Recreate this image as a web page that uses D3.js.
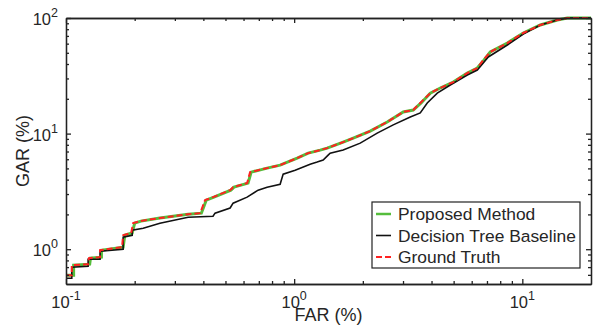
<!DOCTYPE html>
<html lang="en">
<head>
<meta charset="utf-8">
<title>GAR vs FAR</title>
<script src="https://d3js.org/d3.v7.min.js"></script>
<style>
  body { margin: 0; background: #fff; }
  svg text { font-family: "Liberation Sans", Arial, Helvetica, sans-serif; fill: #262626; }
</style>
</head>
<body>
<svg width="603" height="331"></svg>
<script>

// ground truth (red dashed)
var gtFAR = [0.100, 0.106, 0.106, 0.125, 0.126, 0.141, 0.141, 0.176, 0.178, 0.193, 0.197, 0.211, 0.258, 0.343, 0.387, 0.399, 0.407, 0.441, 0.524, 0.540, 0.622, 0.641, 0.761, 0.868, 1.031, 1.152, 1.300, 1.395, 1.640, 1.815, 2.154, 2.558, 3.007, 3.325, 3.570, 3.950, 4.370, 4.982, 5.740, 6.348, 6.744, 7.237, 8.596, 10.10, 11.99, 14.24, 15.75, 20];
var gtGAR = [0.596, 0.596, 0.727, 0.742, 0.836, 0.853, 0.980, 1.04, 1.32, 1.38, 1.68, 1.75, 1.86, 2.01, 2.05, 2.40, 2.66, 2.82, 3.24, 3.44, 3.73, 4.64, 5.03, 5.34, 6.14, 6.78, 7.20, 7.49, 8.44, 9.14, 10.5, 12.6, 15.4, 16.0, 18.4, 22.4, 24.8, 27.9, 33.4, 36.9, 43.3, 50.8, 60.7, 74.2, 87.0, 96.1, 100, 100];

// proposed method (green)
var propFAR = [0.100, 0.108, 0.108, 0.127, 0.128, 0.143, 0.143, 0.178, 0.181, 0.195, 0.200, 0.213, 0.258, 0.343, 0.392, 0.404, 0.412, 0.445, 0.528, 0.545, 0.628, 0.648, 0.761, 0.868, 1.031, 1.152, 1.300, 1.395, 1.640, 1.815, 2.154, 2.558, 3.007, 3.325, 3.600, 3.950, 4.370, 4.982, 5.740, 6.348, 6.800, 7.237, 8.596, 10.10, 11.99, 14.24, 15.75, 20];
var propGAR = [0.596, 0.596, 0.727, 0.742, 0.836, 0.853, 0.980, 1.04, 1.32, 1.38, 1.68, 1.75, 1.86, 2.01, 2.05, 2.40, 2.66, 2.82, 3.24, 3.44, 3.73, 4.64, 5.03, 5.34, 6.14, 6.78, 7.20, 7.49, 8.44, 9.14, 10.5, 12.6, 15.4, 16.0, 18.4, 22.4, 24.8, 27.9, 33.4, 36.9, 43.3, 50.8, 60.7, 74.2, 87.0, 96.1, 100, 100];

// decision tree baseline (black)
var treeFAR = [0.100, 0.106, 0.106, 0.125, 0.125, 0.141, 0.141, 0.178, 0.178, 0.195, 0.195, 0.218, 0.258, 0.343, 0.441, 0.450, 0.524, 0.540, 0.622, 0.695, 0.761, 0.868, 0.895, 1.010, 1.175, 1.261, 1.340, 1.409, 1.438, 1.640, 1.948, 2.312, 2.718, 3.228, 3.570, 3.831, 4.239, 4.833, 5.740, 6.348, 7.093, 8.596, 10.10, 11.99, 14.24, 15.75, 20];
var treeGAR = [0.561, 0.561, 0.698, 0.713, 0.819, 0.819, 0.961, 1.00, 1.27, 1.32, 1.46, 1.52, 1.68, 1.89, 1.93, 2.05, 2.27, 2.50, 2.82, 3.24, 3.44, 3.65, 4.46, 4.83, 5.44, 5.67, 5.90, 6.52, 6.78, 7.20, 8.27, 10.1, 11.9, 13.9, 15.1, 18.4, 22.4, 26.3, 32.1, 35.5, 46.0, 58.4, 72.7, 87.0, 96.1, 100, 100];

var seriesNames = ["Proposed Method", "Decision Tree Baseline", "Ground Truth"];
var xMajor = [0.1, 1, 10];
var yMajor = [1, 10, 100];
var xMinor = [0.2, 0.3, 0.4, 0.5, 0.6, 0.7, 0.8, 0.9, 2, 3, 4, 5, 6, 7, 8, 9];
var yMinor = [0.6, 0.7, 0.8, 0.9, 2, 3, 4, 5, 6, 7, 8, 9, 20, 30, 40, 50, 60, 70, 80, 90];

var svg = d3.select("svg"),
    pL = 66, pR = 591, pT = 18, pB = 284,
    axisColor = "#222";

var x = d3.scaleLog().domain([0.1, 20]).range([pL, pR]);
var y = d3.scaleLog().domain([0.5, 100]).range([pB, pT]);

// curves
svg.append("clipPath").attr("id", "clip")
   .append("rect").attr("x", pL).attr("y", pT - 2)
   .attr("width", pR - pL).attr("height", pB - pT + 2);

var line = d3.line().x(function(d) { return x(d[0]); }).y(function(d) { return y(d[1]); });

function zipPts(a, b) { return a.map(function(v, i) { return [v, b[i]]; }); }

var curves = [
  { pts: zipPts(propFAR, propGAR), color: "#55bd3c", width: 3, dash: null },
  { pts: zipPts(treeFAR, treeGAR), color: "#111", width: 1.6, dash: null },
  { pts: zipPts(gtFAR, gtGAR), color: "#ff2121", width: 2, dash: "6,3" }
];

var cg = svg.append("g").attr("clip-path", "url(#clip)");
curves.forEach(function(c) {
  cg.append("path").datum(c.pts)
    .attr("d", line)
    .attr("fill", "none")
    .attr("stroke", c.color)
    .attr("stroke-width", c.width)
    .attr("stroke-dasharray", c.dash);
});

// axes: inward ticks on all four sides
function styleAxis(g) {
  g.selectAll("path, line").attr("stroke", axisColor).attr("stroke-width", 1.3);
  g.selectAll("text").remove();
}
svg.append("g").attr("transform", "translate(0," + pB + ")")
   .call(d3.axisBottom(x).tickValues(xMinor).tickSizeInner(-3).tickSizeOuter(0)).call(styleAxis);
svg.append("g").attr("transform", "translate(0," + pB + ")")
   .call(d3.axisBottom(x).tickValues(xMajor).tickSizeInner(-5).tickSizeOuter(0)).call(styleAxis);
svg.append("g").attr("transform", "translate(0," + pT + ")")
   .call(d3.axisTop(x).tickValues(xMinor).tickSizeInner(-3).tickSizeOuter(0)).call(styleAxis);
svg.append("g").attr("transform", "translate(0," + pT + ")")
   .call(d3.axisTop(x).tickValues(xMajor).tickSizeInner(-5).tickSizeOuter(0)).call(styleAxis);
svg.append("g").attr("transform", "translate(" + pL + ",0)")
   .call(d3.axisLeft(y).tickValues(yMinor).tickSizeInner(-3).tickSizeOuter(0)).call(styleAxis);
svg.append("g").attr("transform", "translate(" + pL + ",0)")
   .call(d3.axisLeft(y).tickValues(yMajor).tickSizeInner(-5).tickSizeOuter(0)).call(styleAxis);
svg.append("g").attr("transform", "translate(" + pR + ",0)")
   .call(d3.axisRight(y).tickValues(yMinor).tickSizeInner(-3).tickSizeOuter(0)).call(styleAxis);
svg.append("g").attr("transform", "translate(" + pR + ",0)")
   .call(d3.axisRight(y).tickValues(yMajor).tickSizeInner(-5).tickSizeOuter(0)).call(styleAxis);

// tick labels as 10^n
function powLabel(sel, v) {
  var e = Math.round(Math.log10(v));
  sel.append("tspan").attr("font-size", 16.5).text("10");
  sel.append("tspan").attr("font-size", 12.5).attr("dy", -8).text(e);
}
xMajor.forEach(function(v) {
  svg.append("text").attr("x", x(v)).attr("y", 308)
     .attr("text-anchor", "middle").call(powLabel, v);
});
yMajor.forEach(function(v) {
  svg.append("text").attr("x", 58).attr("y", y(v) + 7)
     .attr("text-anchor", "end").call(powLabel, v);
});

// axis titles
svg.append("text").attr("x", (pL + pR) / 2).attr("y", 321)
   .attr("text-anchor", "middle").attr("font-size", 18).text("FAR (%)");
svg.append("text").attr("transform", "translate(29," + (pT + pB) / 2 + ") rotate(-90)")
   .attr("text-anchor", "middle").attr("font-size", 18).text("GAR (%)");

// legend
var lg = svg.append("g");
lg.append("rect").attr("x", 372).attr("y", 202).attr("width", 208).attr("height", 66)
  .attr("fill", "#fff").attr("stroke", axisColor).attr("stroke-width", 1.2);
seriesNames.forEach(function(name, i) {
  var cy = 214 + i * 21.5, c = curves[i];
  lg.append("line").attr("x1", 376).attr("x2", 391).attr("y1", cy).attr("y2", cy)
    .attr("stroke", c.color).attr("stroke-width", c.width === 3 ? 2.5 : c.width)
    .attr("stroke-dasharray", c.dash);
  lg.append("text").attr("x", 398).attr("y", cy + 6).attr("font-size", 17.4).text(name);
});
</script>
</body>
</html>
